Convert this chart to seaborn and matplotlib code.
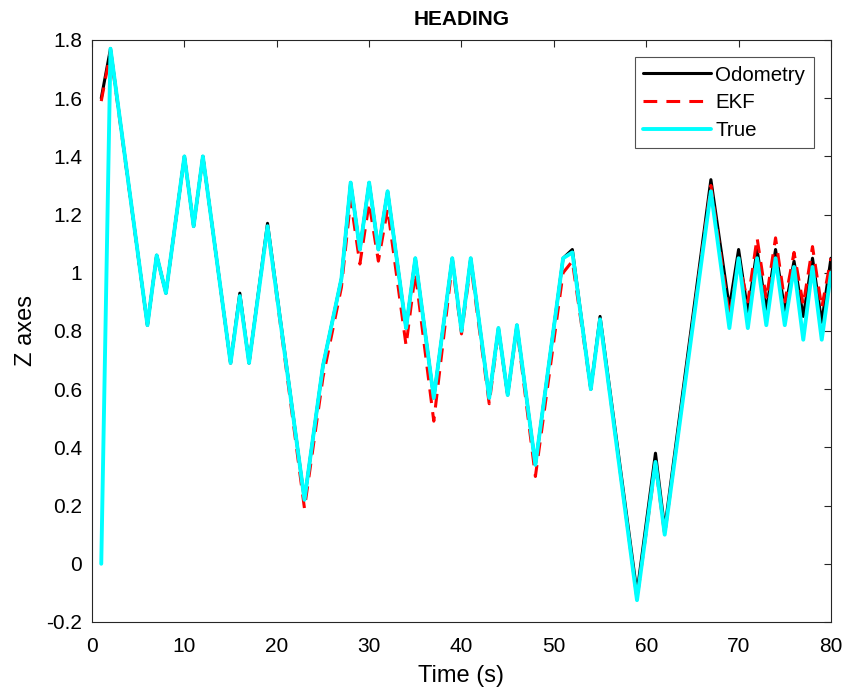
import numpy as np
import pandas as pd
import matplotlib
matplotlib.use("Agg")
import matplotlib.pyplot as plt
import seaborn as sns

# Vertex times (s) for the heading traces
t_true = [1, 2, 6, 7, 8, 10, 11, 12, 15, 16, 17, 19, 23, 25, 27, 28, 29, 30, 31, 32,
          34, 35, 37, 39, 40, 41, 43, 44, 45, 46, 48, 51, 52, 54, 55, 59, 61, 62, 67,
          69, 70, 71, 72, 73, 74, 75, 76, 77, 78, 79, 80]

# True heading
true_vals = [0.00, 1.77, 0.82, 1.06, 0.93, 1.40, 1.16, 1.40, 0.69, 0.92, 0.69, 1.16,
             0.22, 0.68, 0.98, 1.31, 1.08, 1.31, 1.08, 1.28, 0.81, 1.05, 0.57, 1.05,
             0.80, 1.05, 0.57, 0.81, 0.58, 0.82, 0.34, 1.05, 1.07, 0.60, 0.84, -0.125,
             0.35, 0.10, 1.28, 0.81, 1.05, 0.81, 1.05, 0.82, 1.05, 0.82, 1.02, 0.77,
             1.02, 0.77, 1.00]

# Odometry heading
odom_vals = [1.60, 1.77, 0.82, 1.06, 0.93, 1.40, 1.16, 1.40, 0.69, 0.93, 0.69, 1.17,
             0.22, 0.68, 0.98, 1.31, 1.08, 1.31, 1.08, 1.28, 0.81, 1.05, 0.57, 1.05,
             0.80, 1.05, 0.57, 0.81, 0.58, 0.82, 0.34, 1.05, 1.08, 0.60, 0.85, -0.10,
             0.38, 0.12, 1.32, 0.88, 1.08, 0.865, 1.08, 0.87, 1.08, 0.87, 1.04, 0.85,
             1.05, 0.83, 1.05]

# EKF estimate of heading
ekf_vals = [1.59, 1.76, 0.82, 1.06, 0.93, 1.40, 1.16, 1.40, 0.69, 0.92, 0.69, 1.16,
            0.19, 0.64, 0.95, 1.25, 1.03, 1.24, 1.04, 1.22, 0.75, 1.00, 0.49, 1.03,
            0.79, 1.03, 0.55, 0.80, 0.58, 0.81, 0.30, 1.00, 1.04, 0.60, 0.84, -0.12,
            0.34, 0.10, 1.30, 0.85, 1.04, 0.90, 1.12, 0.91, 1.12, 0.90, 1.07, 0.89,
            1.09, 0.88, 1.05]

x_ticks = [0, 10, 20, 30, 40, 50, 60, 70, 80]
y_ticks = [-0.2, 0, 0.2, 0.4, 0.6, 0.8, 1.0, 1.2, 1.4, 1.6, 1.8]
y_tick_labels = ["-0.2", "0", "0.2", "0.4", "0.6", "0.8", "1", "1.2", "1.4", "1.6", "1.8"]

sns.set_style("white")
plt.rcParams["font.family"] = ["Liberation Sans", "DejaVu Sans"]
plt.rcParams["text.color"] = "black"
plt.rcParams["axes.labelcolor"] = "black"

df_odom = pd.DataFrame({"t": t_true, "z": odom_vals})
df_ekf = pd.DataFrame({"t": t_true, "z": ekf_vals})
df_true = pd.DataFrame({"t": t_true, "z": true_vals})

fig = plt.figure(figsize=(8.45, 6.93), dpi=100)
ax = fig.add_axes([0.1089, 0.1025, 0.8745, 0.8398])

sns.lineplot(data=df_odom, x="t", y="z", ax=ax, color="black", lw=2.2,
             label="Odometry", sort=False)
sns.lineplot(data=df_ekf, x="t", y="z", ax=ax, color="red", lw=2.2,
             label="EKF", sort=False, dashes=False)
ax.lines[-1].set_dashes([4.5, 3.0])
sns.lineplot(data=df_true, x="t", y="z", ax=ax, color="cyan", lw=2.8,
             label="True", sort=False)

ax.set_xlim(0, 80)
ax.set_ylim(-0.2, 1.8)
ax.set_xticks(x_ticks)
ax.set_yticks(y_ticks)
ax.set_yticklabels(y_tick_labels)

for s in ax.spines.values():
    s.set_color("#262626")
    s.set_linewidth(0.8)
    s.set_visible(True)

ax.tick_params(direction="in", length=5, width=0.8, top=True, right=True,
               labelsize=15, colors="#262626", labelcolor="black")
ax.tick_params(axis="y", pad=7)
ax.tick_params(axis="x", pad=11)

ax.set_xlabel("Time (s)", fontsize=17, labelpad=6, color="black")
ax.set_ylabel("Z axes", fontsize=17, labelpad=7, color="black")
ax.set_title("HEADING", fontsize=15, fontweight="bold", pad=11, color="black")

leg = ax.legend(loc="upper right", fontsize=14.8, handlelength=3.3,
                borderaxespad=0.85, frameon=True, fancybox=False,
                edgecolor="#262626", handletextpad=0.2, labelspacing=0.42,
                borderpad=0.4)
leg.get_frame().set_linewidth(0.8)
for txt in leg.get_texts():
    txt.set_color("black")

fig.savefig("out.png", dpi=100, facecolor="white")
